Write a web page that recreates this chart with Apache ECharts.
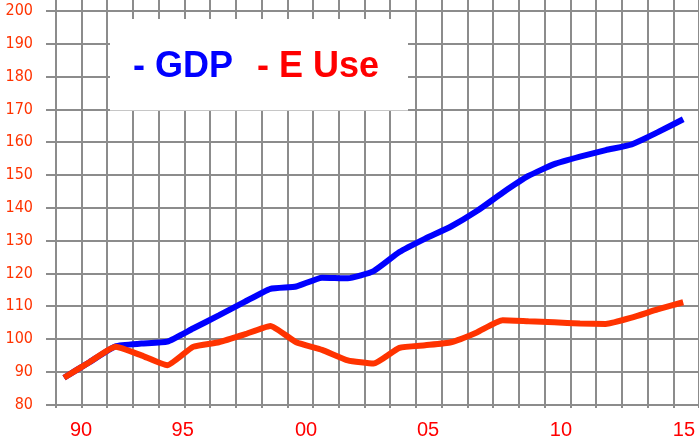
<!DOCTYPE html>
<html>
<head>
<meta charset="utf-8">
<script src="https://cdn.jsdelivr.net/npm/echarts@6/dist/echarts.min.js"></script>
<style>
    html, body { margin: 0; padding: 0; background: #fff; }
    #main { width: 699px; height: 442px; }
</style>
</head>
<body>
<div id="main"></div>
<script>
// 数据：1991-2015
var years = [1991, 1992, 1993, 1994, 1995, 1996, 1997, 1998, 1999, 2000, 2001, 2002, 2003,
    2004, 2005, 2006, 2007, 2008, 2009, 2010, 2011, 2012, 2013, 2014, 2015];
var gdp = [88.2, 93, 97.8, 98.6, 99.2, 103.2, 107.2, 111.3, 115.3, 116, 118.7, 118.5, 120.7,
    126.5, 130.6, 134.3, 139, 144.6, 149.7, 153.3, 155.6, 157.6, 159.3, 163, 167];
var eUse = [88.2, 93, 97.6, 95, 92, 97.6, 99, 101.4, 104, 99, 96.7, 93.5, 92.5,
    97.3, 98.1, 99, 102, 105.7, 105.4, 105.1, 104.7, 104.6, 106.5, 109, 111.2];

// x轴标签（原图标签位置并不均匀）
var tickLabels = ['90', '95', '00', '05', '10', '15'];
var tickPos = [1991.66, 1995.6, 2000.38, 2005.11, 2010.26, 2015.03];

var chart = echarts.init(document.getElementById('main'));

function pairs(vals) {
    var out = [];
    for (var i = 0; i < years.length; i++) {
        out.push([years[i], vals[i]]);
    }
    return out;
}

var gridLine = { color: '#8c8c8c', width: 2 };

var option = {
    animation: false,
    backgroundColor: '#fff',
    grid: [
        { left: 46, right: 0, top: 11, bottom: 37.4 },
        { left: 55.7, width: 644, top: 0, bottom: 34 } // 竖向网格
    ],
    xAxis: [{
        type: 'value',
        gridIndex: 0,
        min: 1990.302,
        max: 2015.612,
        axisLine: { show: false },
        axisTick: { show: false },
        splitLine: { show: false },
        axisLabel: {
            customValues: tickPos,
            color: '#ff0000',
            fontSize: 20,
            fontFamily: 'Liberation Sans, Arial, sans-serif',
            margin: 16,
            formatter: function (value) {
                var i = tickPos.indexOf(value);
                return i >= 0 ? tickLabels[i] : '';
            }
        }
    }, {
        type: 'value',
        gridIndex: 1,
        min: 0,
        max: 25,
        interval: 1,
        axisLine: { show: false },
        axisTick: { show: false },
        axisLabel: { show: false },
        splitLine: { show: true, lineStyle: gridLine }
    }],
    yAxis: [{
        type: 'value',
        gridIndex: 0,
        min: 80,
        max: 200,
        interval: 10,
        axisLine: { show: false },
        axisTick: { show: false },
        splitLine: { show: true, lineStyle: gridLine },
        axisLabel: {
            color: '#ff3300',
            fontSize: 16,
            fontFamily: 'Liberation Sans Narrow, DejaVu Sans Condensed, sans-serif',
            margin: 13
        }
    }, {
        type: 'value',
        gridIndex: 1,
        show: false,
        splitLine: { show: false }
    }],
    graphic: [{
        type: 'rect',
        z: 1,
        shape: { x: 110, y: 19, width: 298, height: 91.5 },
        style: { fill: '#fff' }
    }, {
        type: 'text',
        z: 2,
        x: 133,
        y: 67,
        style: {
            text: '- GDP',
            fill: '#0000ff',
            fontSize: 36,
            fontWeight: 'bold',
            fontFamily: 'Liberation Sans, Arial, sans-serif',
            verticalAlign: 'middle'
        }
    }, {
        type: 'text',
        z: 2,
        x: 257,
        y: 67,
        style: {
            text: '- E Use',
            fill: '#ff0000',
            fontSize: 36,
            fontWeight: 'bold',
            fontFamily: 'Liberation Sans, Arial, sans-serif',
            verticalAlign: 'middle'
        }
    }],
    series: [{
        name: 'GDP',
        type: 'line',
        data: pairs(gdp),
        smooth: 0.15,
        symbol: 'none',
        z: 3,
        lineStyle: { color: '#0000ff', width: 6 }
    }, {
        name: 'E Use',
        type: 'line',
        data: pairs(eUse),
        smooth: 0.15,
        symbol: 'none',
        z: 4,
        lineStyle: { color: '#ff3300', width: 6 }
    }]
};

chart.setOption(option);
</script>
</body>
</html>
